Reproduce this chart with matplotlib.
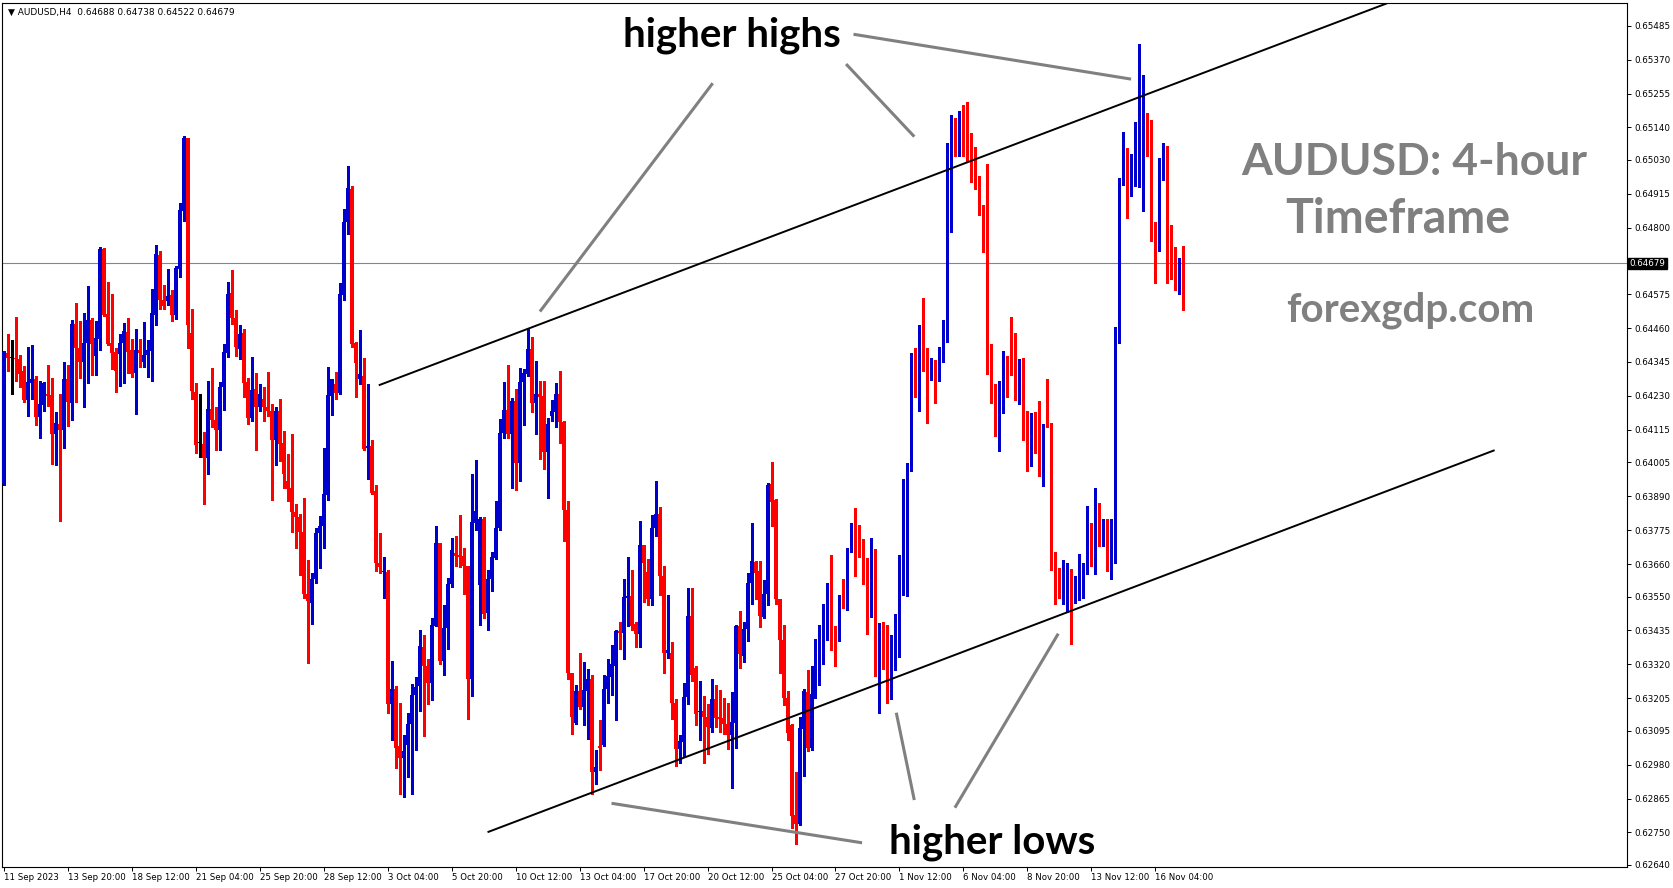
import matplotlib
matplotlib.use('Agg')
import matplotlib.pyplot as plt
import matplotlib.transforms as mtransforms
import numpy as np

# AUDUSD H4 candles, 11 Sep 2023 .. 17 Nov 2023
opens = [
    0.63935, 0.64376, 0.64359, 0.64360, 0.64356, 0.64314, 0.64216, 0.64275, 0.64286, 0.64159,
    0.64198, 0.64235, 0.64232, 0.64102, 0.64134, 0.64116, 0.64286, 0.64206, 0.64475, 0.64391,
    0.64345, 0.64411, 0.64487, 0.64365, 0.64422, 0.64727, 0.64507, 0.64410, 0.64380, 0.64371,
    0.64410, 0.64447, 0.64387, 0.64308, 0.64387, 0.64345, 0.64368, 0.64382, 0.64506, 0.64707,
    0.64555, 0.64551, 0.64572, 0.64506, 0.64660, 0.64857, 0.65103, 0.64444, 0.64244, 0.64069,
    0.64066, 0.64020, 0.64187, 0.64150, 0.64116, 0.64260, 0.64376, 0.64578, 0.64495, 0.64388,
    0.64444, 0.64278, 0.64156, 0.64252, 0.64193, 0.64218, 0.64193, 0.64178, 0.64079, 0.64178,
    0.64072, 0.63941, 0.63918, 0.63837, 0.63819, 0.63768, 0.63560, 0.63529, 0.63611, 0.63766,
    0.63788, 0.63895, 0.64229, 0.64269, 0.64241, 0.64572, 0.64820, 0.64933, 0.64410, 0.64289,
    0.64298, 0.64055, 0.64060, 0.63909, 0.63664, 0.63632, 0.63633, 0.63184, 0.63235, 0.63042,
    0.63003, 0.63045, 0.63119, 0.63217, 0.63246, 0.63379, 0.63313, 0.63257, 0.63450, 0.63732,
    0.63331, 0.63443, 0.63591, 0.63698, 0.63690, 0.63686, 0.63652, 0.63269, 0.63800, 0.63590,
    0.63814, 0.63494, 0.63608, 0.63680, 0.63783, 0.64103, 0.64181, 0.64100, 0.64212, 0.64004,
    0.64278, 0.64303, 0.64390, 0.64206, 0.64235, 0.64229, 0.64040, 0.64162, 0.64175, 0.64235,
    0.64141, 0.63842, 0.63289, 0.63122, 0.63228, 0.63176, 0.63231, 0.63271, 0.62955, 0.63042,
    0.63045, 0.63237, 0.63277, 0.63316, 0.63432, 0.63427, 0.63545, 0.63551, 0.63458, 0.63424,
    0.63723, 0.63633, 0.63540, 0.63783, 0.63831, 0.63621, 0.63358, 0.63359, 0.63189, 0.63032,
    0.63057, 0.63208, 0.63483, 0.63308, 0.63157, 0.63161, 0.63141, 0.63104, 0.63204, 0.63141,
    0.63138, 0.63119, 0.63081, 0.63122, 0.63450, 0.63347, 0.63440, 0.63597, 0.63667, 0.63636,
    0.63481, 0.63560, 0.63931, 0.63877, 0.63540, 0.63401, 0.63207, 0.63114, 0.62810, 0.62779,
    0.63102, 0.63226, 0.63038, 0.63211, 0.63353, 0.63449, 0.63512, 0.63516, 0.63416, 0.63401,
    0.63546, 0.63510, 0.63706, 0.63770, 0.63758, 0.63707, 0.63649, 0.63483, 0.63707, 0.63379,
    0.63401, 0.63377, 0.63235, 0.63304, 0.63356, 0.63601, 0.63616, 0.63988, 0.64360, 0.64224,
    0.64436, 0.64379, 0.64287, 0.64348, 0.64297, 0.64360, 0.64419, 0.65008, 0.65125, 0.65077,
    0.65153, 0.65142, 0.65070, 0.64998, 0.64966, 0.64877, 0.64755, 0.64380, 0.64221, 0.64159,
    0.64182, 0.64331, 0.64331, 0.64311, 0.64235, 0.64269, 0.64125, 0.64021, 0.64148, 0.64093,
    0.64065, 0.64131, 0.64128, 0.63697, 0.63635, 0.63588, 0.63586, 0.63637, 0.63577, 0.63600,
    0.63618, 0.63642, 0.63763, 0.63682, 0.63842, 0.63745, 0.63784, 0.63666, 0.63773, 0.64414,
    0.64948, 0.65042, 0.64911, 0.65015, 0.65066, 0.65086, 0.65187, 0.65049, 0.64815, 0.64755,
    0.64966, 0.65075, 0.64746, 0.64665, 0.64590, 0.64688,
]
highs = [
    0.64383, 0.64441, 0.64418, 0.64496, 0.64368, 0.64332, 0.64396, 0.64404, 0.64298, 0.64281,
    0.64278, 0.64336, 0.64292, 0.64175, 0.64235, 0.64346, 0.64336, 0.64487, 0.64544, 0.64484,
    0.64512, 0.64602, 0.64495, 0.64484, 0.64736, 0.64733, 0.64617, 0.64575, 0.64391, 0.64441,
    0.64478, 0.64495, 0.64424, 0.64458, 0.64424, 0.64481, 0.64418, 0.64592, 0.64741, 0.64721,
    0.64605, 0.64660, 0.64589, 0.64670, 0.64885, 0.65112, 0.65106, 0.64526, 0.64275, 0.64237,
    0.64107, 0.64281, 0.64326, 0.64193, 0.64278, 0.64407, 0.64617, 0.64656, 0.64521, 0.64470,
    0.64458, 0.64292, 0.64363, 0.64306, 0.64272, 0.64261, 0.64312, 0.64201, 0.64193, 0.64221,
    0.64110, 0.64032, 0.64100, 0.63864, 0.63828, 0.63884, 0.63675, 0.63628, 0.63783, 0.63823,
    0.64054, 0.64329, 0.64289, 0.64312, 0.64613, 0.64865, 0.65010, 0.64942, 0.64413, 0.64453,
    0.64360, 0.64269, 0.64080, 0.63929, 0.63766, 0.63683, 0.63641, 0.63331, 0.63246, 0.63189,
    0.63081, 0.63156, 0.63254, 0.63277, 0.63436, 0.63421, 0.63339, 0.63478, 0.63788, 0.63732,
    0.63522, 0.63613, 0.63749, 0.63754, 0.63826, 0.63715, 0.63655, 0.63964, 0.64012, 0.63819,
    0.63820, 0.63641, 0.63701, 0.63873, 0.64153, 0.64278, 0.64336, 0.64224, 0.64255, 0.64326,
    0.64322, 0.64458, 0.64430, 0.64349, 0.64281, 0.64281, 0.64155, 0.64215, 0.64275, 0.64315,
    0.64144, 0.63874, 0.63292, 0.63251, 0.63359, 0.63328, 0.63303, 0.63283, 0.63029, 0.63131,
    0.63283, 0.63339, 0.63385, 0.63435, 0.63463, 0.63610, 0.63683, 0.63641, 0.63463, 0.63806,
    0.63726, 0.63676, 0.63826, 0.63941, 0.63853, 0.63655, 0.63556, 0.63396, 0.63203, 0.63082,
    0.63257, 0.63579, 0.63579, 0.63316, 0.63262, 0.63212, 0.63187, 0.63271, 0.63251, 0.63234,
    0.63207, 0.63189, 0.63226, 0.63453, 0.63501, 0.63463, 0.63628, 0.63800, 0.63672, 0.63672,
    0.63605, 0.63935, 0.64006, 0.63879, 0.63543, 0.63452, 0.63228, 0.63117, 0.62956, 0.63143,
    0.63238, 0.63302, 0.63316, 0.63407, 0.63455, 0.63526, 0.63595, 0.63689, 0.63449, 0.63556,
    0.63609, 0.63716, 0.63798, 0.63849, 0.63794, 0.63746, 0.63679, 0.63750, 0.63710, 0.63459,
    0.63465, 0.63452, 0.63419, 0.63489, 0.63692, 0.63949, 0.64004, 0.64375, 0.64394, 0.64472,
    0.64561, 0.64394, 0.64357, 0.64351, 0.64396, 0.64488, 0.65086, 0.65183, 0.65173, 0.65197,
    0.65215, 0.65227, 0.65122, 0.65073, 0.64976, 0.64877, 0.65017, 0.64407, 0.64272, 0.64280,
    0.64383, 0.64366, 0.64497, 0.64442, 0.64355, 0.64359, 0.64180, 0.64173, 0.64176, 0.64214,
    0.64136, 0.64287, 0.64138, 0.63701, 0.63648, 0.63673, 0.63662, 0.63644, 0.63618, 0.63694,
    0.63662, 0.63858, 0.63800, 0.63918, 0.63866, 0.63814, 0.63814, 0.63814, 0.64463, 0.64969,
    0.65125, 0.65070, 0.65049, 0.65160, 0.65422, 0.65318, 0.65190, 0.65166, 0.64821, 0.65038,
    0.65086, 0.65078, 0.64810, 0.64735, 0.64697, 0.64738,
]
lows = [
    0.63927, 0.64314, 0.64237, 0.64280, 0.64260, 0.64209, 0.64162, 0.64218, 0.64131, 0.64088,
    0.64178, 0.64195, 0.64000, 0.63997, 0.63806, 0.64054, 0.64128, 0.64148, 0.64210, 0.64291,
    0.64193, 0.64275, 0.64302, 0.64302, 0.64384, 0.64500, 0.64402, 0.64320, 0.64243, 0.64263,
    0.64275, 0.64306, 0.64294, 0.64168, 0.64329, 0.64328, 0.64294, 0.64280, 0.64472, 0.64523,
    0.64523, 0.64538, 0.64483, 0.64490, 0.64634, 0.64823, 0.64394, 0.64220, 0.64035, 0.64024,
    0.63862, 0.63964, 0.64125, 0.64045, 0.64045, 0.64181, 0.64362, 0.64475, 0.64367, 0.64354,
    0.64226, 0.64136, 0.64144, 0.64048, 0.64178, 0.64144, 0.64162, 0.63878, 0.63997, 0.64011,
    0.63919, 0.63873, 0.63769, 0.63713, 0.63622, 0.63545, 0.63324, 0.63458, 0.63597, 0.63645,
    0.63713, 0.63878, 0.64165, 0.64218, 0.64235, 0.64555, 0.64780, 0.64396, 0.64226, 0.64269,
    0.64048, 0.63950, 0.63899, 0.63638, 0.63630, 0.63545, 0.63156, 0.63065, 0.62968, 0.62879,
    0.62870, 0.62937, 0.62879, 0.63029, 0.63161, 0.63076, 0.63184, 0.63200, 0.63450, 0.63320,
    0.63283, 0.63373, 0.63583, 0.63652, 0.63649, 0.63560, 0.63135, 0.63212, 0.63775, 0.63452,
    0.63478, 0.63438, 0.63568, 0.63676, 0.63775, 0.64086, 0.64086, 0.63919, 0.63910, 0.63942,
    0.64131, 0.64298, 0.64175, 0.64100, 0.64017, 0.63983, 0.63885, 0.64144, 0.64124, 0.64069,
    0.63738, 0.63269, 0.63084, 0.63119, 0.63169, 0.63115, 0.63068, 0.62882, 0.62913, 0.62962,
    0.63042, 0.63190, 0.63215, 0.63133, 0.63373, 0.63339, 0.63450, 0.63436, 0.63378, 0.63378,
    0.63532, 0.63522, 0.63522, 0.63754, 0.63556, 0.63292, 0.63342, 0.63135, 0.62975, 0.62986,
    0.63009, 0.63184, 0.63262, 0.63115, 0.63065, 0.62986, 0.63017, 0.63091, 0.63107, 0.63091,
    0.63084, 0.63032, 0.62902, 0.63037, 0.63308, 0.63328, 0.63398, 0.63525, 0.63540, 0.63447,
    0.63478, 0.63522, 0.63788, 0.63524, 0.63290, 0.63183, 0.63065, 0.62766, 0.62711, 0.62774,
    0.62941, 0.63026, 0.63028, 0.63207, 0.63250, 0.63322, 0.63403, 0.63368, 0.63314, 0.63399,
    0.63510, 0.63504, 0.63701, 0.63621, 0.63685, 0.63592, 0.63422, 0.63480, 0.63280, 0.63155,
    0.63304, 0.63189, 0.63201, 0.63300, 0.63344, 0.63556, 0.63552, 0.63974, 0.64227, 0.64178,
    0.64315, 0.64137, 0.64285, 0.64206, 0.64282, 0.64345, 0.64414, 0.64787, 0.65045, 0.65045,
    0.65045, 0.65028, 0.64954, 0.64932, 0.64842, 0.64718, 0.64304, 0.64207, 0.64094, 0.64042,
    0.64173, 0.64228, 0.64300, 0.64217, 0.64203, 0.64081, 0.63977, 0.63994, 0.64035, 0.63959,
    0.63924, 0.64125, 0.63639, 0.63524, 0.63545, 0.63524, 0.63499, 0.63390, 0.63527, 0.63538,
    0.63545, 0.63625, 0.63655, 0.63625, 0.63720, 0.63720, 0.63637, 0.63610, 0.63662, 0.64410,
    0.64946, 0.64832, 0.64907, 0.64941, 0.64939, 0.64856, 0.65042, 0.64755, 0.64614, 0.64722,
    0.64962, 0.64612, 0.64628, 0.64590, 0.64576, 0.64522,
]
closes = [
    0.64379, 0.64357, 0.64359, 0.64356, 0.64303, 0.64216, 0.64278, 0.64286, 0.64159, 0.64201,
    0.64275, 0.64229, 0.64102, 0.64137, 0.64116, 0.64286, 0.64210, 0.64475, 0.64391, 0.64345,
    0.64411, 0.64487, 0.64405, 0.64425, 0.64727, 0.64504, 0.64407, 0.64374, 0.64314, 0.64410,
    0.64450, 0.64380, 0.64303, 0.64387, 0.64374, 0.64370, 0.64384, 0.64512, 0.64710, 0.64554,
    0.64535, 0.64569, 0.64506, 0.64665, 0.64859, 0.65103, 0.64472, 0.64246, 0.64065, 0.64069,
    0.64020, 0.64184, 0.64150, 0.64116, 0.64261, 0.64380, 0.64575, 0.64495, 0.64396, 0.64441,
    0.64275, 0.64156, 0.64249, 0.64193, 0.64235, 0.64193, 0.64178, 0.64079, 0.64178, 0.64066,
    0.63966, 0.63915, 0.63837, 0.63819, 0.63768, 0.63560, 0.63535, 0.63611, 0.63766, 0.63788,
    0.63898, 0.64232, 0.64286, 0.64241, 0.64575, 0.64820, 0.64936, 0.64407, 0.64340, 0.64303,
    0.64051, 0.64058, 0.63902, 0.63664, 0.63649, 0.63634, 0.63184, 0.63235, 0.63037, 0.63003,
    0.63026, 0.63119, 0.63217, 0.63243, 0.63382, 0.63316, 0.63257, 0.63453, 0.63732, 0.63331,
    0.63443, 0.63594, 0.63709, 0.63687, 0.63683, 0.63652, 0.63269, 0.63803, 0.63839, 0.63814,
    0.63489, 0.63608, 0.63683, 0.63783, 0.64103, 0.64181, 0.64100, 0.64212, 0.64004, 0.64278,
    0.64309, 0.64390, 0.64206, 0.64235, 0.64226, 0.64040, 0.64134, 0.64178, 0.64235, 0.64141,
    0.63842, 0.63289, 0.63141, 0.63228, 0.63176, 0.63234, 0.63271, 0.62955, 0.62971, 0.63037,
    0.63237, 0.63282, 0.63320, 0.63432, 0.63427, 0.63548, 0.63551, 0.63450, 0.63424, 0.63723,
    0.63664, 0.63540, 0.63783, 0.63831, 0.63618, 0.63358, 0.63367, 0.63189, 0.63032, 0.63060,
    0.63211, 0.63483, 0.63285, 0.63153, 0.63160, 0.63141, 0.63107, 0.63204, 0.63138, 0.63135,
    0.63119, 0.63081, 0.63125, 0.63450, 0.63355, 0.63440, 0.63597, 0.63669, 0.63630, 0.63484,
    0.63557, 0.63927, 0.63869, 0.63540, 0.63401, 0.63205, 0.63086, 0.62805, 0.62779, 0.63104,
    0.63228, 0.63038, 0.63220, 0.63355, 0.63449, 0.63512, 0.63515, 0.63411, 0.63334, 0.63546,
    0.63514, 0.63706, 0.63770, 0.63752, 0.63710, 0.63649, 0.63483, 0.63706, 0.63379, 0.63401,
    0.63371, 0.63235, 0.63304, 0.63356, 0.63601, 0.63619, 0.63990, 0.64363, 0.64230, 0.64436,
    0.64379, 0.64287, 0.64348, 0.64297, 0.64360, 0.64427, 0.65001, 0.65125, 0.65108, 0.65153,
    0.65142, 0.65070, 0.64998, 0.64966, 0.64877, 0.64755, 0.64376, 0.64217, 0.64159, 0.64182,
    0.64352, 0.64325, 0.64307, 0.64238, 0.64269, 0.64122, 0.64024, 0.64148, 0.64093, 0.64065,
    0.64131, 0.64128, 0.63662, 0.63632, 0.63586, 0.63591, 0.63635, 0.63577, 0.63600, 0.63621,
    0.63642, 0.63763, 0.63682, 0.63842, 0.63766, 0.63784, 0.63666, 0.63773, 0.64421, 0.64953,
    0.65070, 0.64915, 0.65017, 0.65067, 0.65086, 0.65187, 0.65077, 0.64810, 0.64755, 0.64966,
    0.65073, 0.64746, 0.64714, 0.64628, 0.64686, 0.64679,
]

x_labels = ['11 Sep 2023', '13 Sep 20:00', '18 Sep 12:00', '21 Sep 04:00', '25 Sep 20:00',
            '28 Sep 12:00', '3 Oct 04:00', '5 Oct 20:00', '10 Oct 12:00', '13 Oct 04:00',
            '17 Oct 20:00', '20 Oct 12:00', '25 Oct 04:00', '27 Oct 20:00', '1 Nov 12:00',
            '6 Nov 04:00', '8 Nov 20:00', '13 Nov 12:00', '16 Nov 04:00']
y_labels = ['0.65485', '0.65370', '0.65255', '0.65140', '0.65030', '0.64915', '0.64800',
            '0.64575', '0.64460', '0.64345', '0.64230', '0.64115', '0.64005', '0.63890',
            '0.63775', '0.63660', '0.63550', '0.63435', '0.63320', '0.63205', '0.63095',
            '0.62980', '0.62865', '0.62750', '0.62640']
last_price = 0.64679

# channel trend lines: (candle, price) anchors
upper_channel = [(93.8, 0.64266), (345.9, 0.65561)]
lower_channel = [(121.0, 0.62751), (372.8, 0.64046)]

o = np.array(opens)
h = np.array(highs)
l = np.array(lows)
c = np.array(closes)
idx = np.arange(len(o))

fig = plt.figure(figsize=(16.73, 8.88), dpi=100)
ax = fig.add_axes([2 / 1673, 21 / 888, 1625 / 1673, 864 / 888])
ax.set_xlim(-0.4, 405.9)
ax.set_ylim(0.62633, 0.65562)

blue = '#0000CD'
red = '#FF0000'
cols = np.where(c > o, blue, np.where(c < o, red, 'black'))

ax.vlines(idx, l, h, colors=cols, linewidth=0.75, antialiased=False, zorder=3)
body_h = np.maximum(np.abs(c - o), 0.00004)
ax.bar(idx, body_h, bottom=np.minimum(o, c), width=0.8, color=cols,
       linewidth=0, antialiased=False, zorder=4)

# current price line
ax.axhline(last_price, color='#778899', linewidth=0.8, zorder=2)

# channel
for line in (upper_channel, lower_channel):
    (x0, y0), (x1, y1) = line
    ax.plot([x0, x1], [y0, y1], color='black', linewidth=1.4, zorder=5,
            solid_capstyle='butt')

# pointer lines
pointers = [
    [(177.3, 0.65290), (134.1, 0.64516)],
    [(210.65, 0.65355), (227.7, 0.65109)],
    [(212.5, 0.65456), (281.9, 0.65304)],
    [(152.0, 0.62849), (214.65, 0.62715)],
    [(223.2, 0.63156), (227.7, 0.62860)],
    [(263.7, 0.63424), (237.85, 0.62834)],
]
for (x0, y0), (x1, y1) in pointers:
    ax.plot([x0, x1], [y0, y1], color='#808080', linewidth=2.2, zorder=6,
            solid_capstyle='butt')

ax.text(182.0, 0.65416, 'higher highs', fontsize=29, fontweight='bold',
        family='Lato', ha='center', va='baseline', color='black', zorder=7)
ax.text(247.1, 0.62679, 'higher lows', fontsize=29, fontweight='bold',
        family='Lato', ha='center', va='baseline', color='black', zorder=7)
ax.text(352.7, 0.64980, 'AUDUSD: 4-hour', fontsize=32, fontweight='bold',
        family='Lato', ha='center', va='baseline', color='#808080', zorder=7)
ax.text(348.7, 0.64783, 'Timeframe', fontsize=33.5, fontweight='bold',
        family='Lato', ha='center', va='baseline', color='#808080', zorder=7)
ax.text(351.8, 0.64481, 'forexgdp.com', fontsize=29, fontweight='bold',
        family='Lato', ha='center', va='baseline', color='#808080', zorder=7)

ax.text(0.004, 0.994, '\u25bc AUDUSD,H4  0.64688 0.64738 0.64522 0.64679',
        transform=ax.transAxes, fontsize=6.5, va='top', ha='left', color='black')

# axes
for s in ax.spines.values():
    s.set_color('black')
    s.set_linewidth(0.8)

ax.yaxis.tick_right()
ax.set_yticks([float(v) for v in y_labels])
ax.set_yticklabels(y_labels)
ax.tick_params(axis='y', direction='out', length=3, width=0.7, pad=2,
               labelsize=6.3, colors='black')
ax.set_xticks(np.arange(len(x_labels)) * 16)
ax.set_xticklabels(x_labels)
ax.tick_params(axis='x', direction='out', length=3, width=0.7, pad=1.5,
               labelsize=6.2, colors='black')
for t in ax.get_xticklabels():
    t.set_horizontalalignment('left')

trans = mtransforms.blended_transform_factory(ax.transAxes, ax.transData)
ax.text(1.0015, last_price, '0.64679', transform=trans, fontsize=6.3,
        color='white', va='center', ha='left',
        bbox=dict(boxstyle='square,pad=0.15', facecolor='black', edgecolor='black'))

fig.savefig('out.png', dpi=100)
